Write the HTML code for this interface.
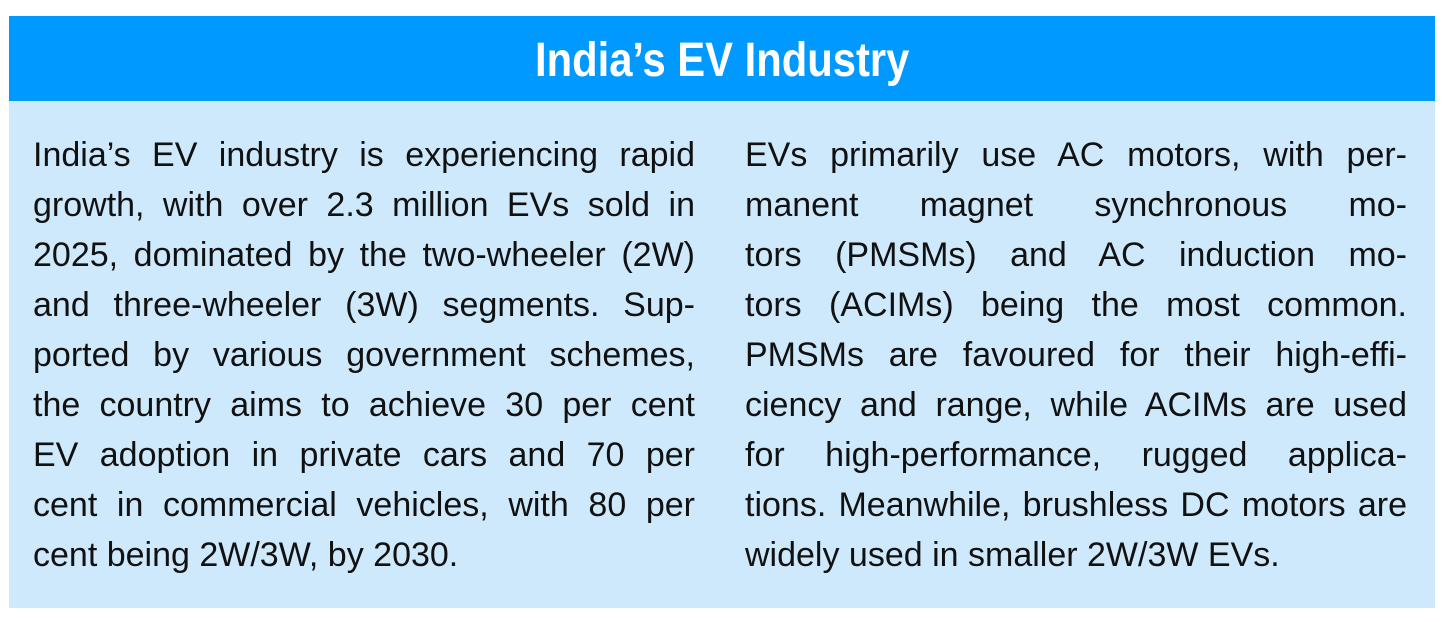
<!DOCTYPE html>
<html><head><meta charset="utf-8"><style>
body{margin:0;width:1448px;height:622px;background:#fff;position:relative;overflow:hidden;font-family:"Liberation Sans",sans-serif;}
.hdr{position:absolute;left:9px;top:16px;width:1426px;height:85px;background:#0099ff;}
.ttl{position:absolute;left:0;top:2px;width:1426px;height:85px;line-height:85px;text-align:center;color:#fff;font-weight:bold;font-size:48px;}
.ttl span{display:inline-block;transform:scaleX(0.87);}
.bd{position:absolute;left:9px;top:101px;width:1426px;height:507px;background:#cde9fb;}
.l{position:absolute;width:662px;height:50px;line-height:50px;font-size:34px;color:#111;text-align:justify;text-align-last:justify;white-space:nowrap;}
.l.e{text-align-last:left;}
</style></head><body>
<div class="hdr"><div class="ttl"><span>India’s EV Industry</span></div></div>
<div class="bd"></div>
<div class="l" style="left:33px;top:130px">India’s EV industry is experiencing rapid</div>
<div class="l" style="left:33px;top:180px">growth, with over 2.3 million EVs sold in</div>
<div class="l" style="left:33px;top:230px">2025, dominated by the two-wheeler (2W)</div>
<div class="l" style="left:33px;top:280px">and three-wheeler (3W) segments. Sup-</div>
<div class="l" style="left:33px;top:330px">ported by various government schemes,</div>
<div class="l" style="left:33px;top:380px">the country aims to achieve 30 per cent</div>
<div class="l" style="left:33px;top:430px">EV adoption in private cars and 70 per</div>
<div class="l" style="left:33px;top:480px">cent in commercial vehicles, with 80 per</div>
<div class="l e" style="left:33px;top:530px">cent being 2W/3W, by 2030.</div>
<div class="l" style="left:745px;top:130px">EVs primarily use AC motors, with per-</div>
<div class="l" style="left:745px;top:180px">manent magnet synchronous mo-</div>
<div class="l" style="left:745px;top:230px">tors (PMSMs) and AC induction mo-</div>
<div class="l" style="left:745px;top:280px">tors (ACIMs) being the most common.</div>
<div class="l" style="left:745px;top:330px">PMSMs are favoured for their high-effi-</div>
<div class="l" style="left:745px;top:380px">ciency and range, while ACIMs are used</div>
<div class="l" style="left:745px;top:430px">for high-performance, rugged applica-</div>
<div class="l" style="left:745px;top:480px">tions. Meanwhile, brushless DC motors are</div>
<div class="l e" style="left:745px;top:530px">widely used in smaller 2W/3W EVs.</div>
</body></html>
